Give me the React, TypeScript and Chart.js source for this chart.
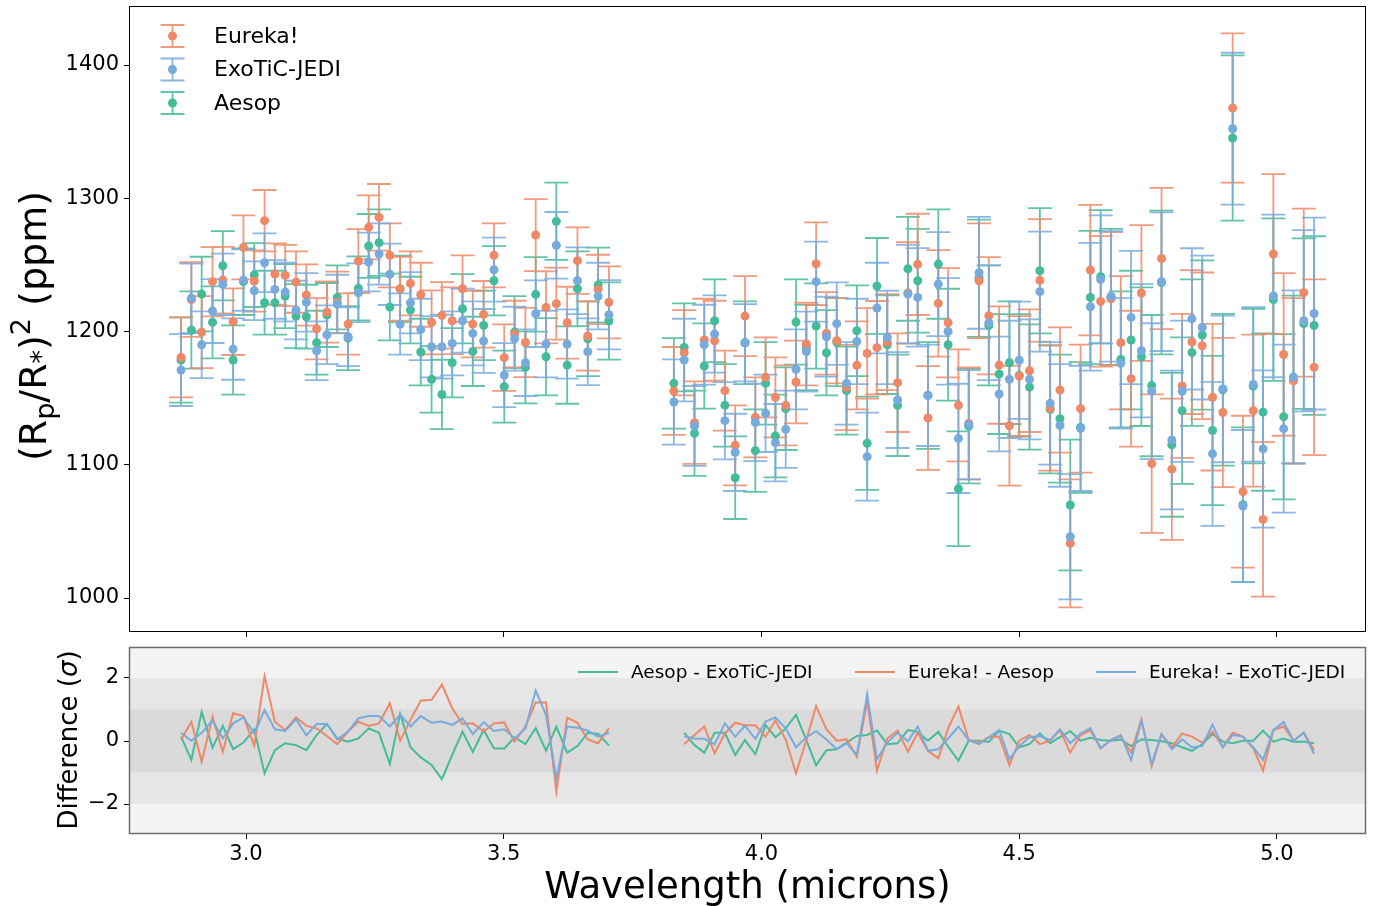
import React, { useEffect, useRef } from "react";
import { Chart, registerables } from "chart.js";

Chart.register(...registerables);

const FONT = "'DejaVu Sans', 'Liberation Sans', sans-serif";
const C_EUREKA = "#EE8866";
const C_JEDI = "#77AADD";
const C_AESOP = "#44BB99";

// ---------------- data ----------------
const wavelength = [
  2.874, 2.894, 2.914, 2.935, 2.955, 2.975, 2.995, 3.016, 3.036, 3.056,
  3.076, 3.097, 3.117, 3.137, 3.157, 3.177, 3.198, 3.218, 3.238, 3.258,
  3.279, 3.299, 3.319, 3.339, 3.36, 3.38, 3.4, 3.42, 3.44, 3.461,
  3.481, 3.501, 3.521, 3.542, 3.562, 3.582, 3.602, 3.623, 3.643, 3.663,
  3.683, 3.704,
  3.83, 3.85, 3.87, 3.889, 3.909, 3.929, 3.949, 3.968, 3.988, 4.008,
  4.027, 4.047, 4.067, 4.087, 4.106, 4.126, 4.146, 4.165, 4.185, 4.205,
  4.224, 4.244, 4.264, 4.284, 4.303, 4.323, 4.343, 4.362, 4.382, 4.402,
  4.422, 4.441, 4.461, 4.481, 4.5, 4.52, 4.54, 4.56, 4.579, 4.599,
  4.619, 4.638, 4.658, 4.678, 4.697, 4.717, 4.737, 4.757, 4.776, 4.796,
  4.816, 4.835, 4.855, 4.875, 4.895, 4.914, 4.934, 4.954, 4.973, 4.993,
  5.013, 5.032, 5.052, 5.072,
];

const eureka = [
  1180.6, 1224, 1199.6, 1237.4, 1238.6, 1207.4, 1263.2, 1237.9, 1283.2, 1243.1,
  1242.1, 1237.1, 1227.4, 1202.1, 1214.6, 1222, 1205.6, 1252.9, 1278.2, 1285.7,
  1257.2, 1232.1, 1236.1, 1227.6, 1206.9, 1212.1, 1208.1, 1232.1, 1205.6, 1212.9,
  1257.2, 1180.4, 1198.1, 1191.8, 1272.4, 1218.1, 1220.9, 1206.6, 1253.2, 1196.6,
  1231.6, 1221.9,
  1155.4, 1184.1, 1131.6, 1193.6, 1193.1, 1155.6, 1114.6, 1211.6, 1135.6, 1165.6,
  1150.6, 1144.6, 1162.1, 1190.6, 1250.9, 1198.6, 1193.1, 1158, 1174.6, 1183.6,
  1187.9, 1192, 1161.6, 1229, 1250.4, 1135.1, 1221.1, 1206.6, 1144.6, 1131,
  1238.1, 1211.9, 1174.8, 1129.3, 1166.6, 1170.6, 1238.4, 1142.6, 1156.1, 1041.0,
  1142.1, 1246.1, 1222.6, 1224.6, 1191.6, 1164.6, 1228.9, 1100.9, 1254.8, 1096.7,
  1159.2, 1192.1, 1189.3, 1150.7, 1139.2, 1367.7, 1079.8, 1140.6, 1059.0, 1258.2,
  1182.8, 1163.1, 1229.2, 1173.2,
];
const eurekaErr = [
  30, 28, 27, 26, 25, 25, 24, 23, 23, 23,
  23, 23, 23, 23, 23, 23, 23, 24, 24, 25,
  24, 24, 24, 24, 24, 25, 25, 25, 25, 25,
  24, 25, 25, 26, 27, 27, 27, 27, 25, 26,
  26, 27,
  33, 32, 31, 31, 30, 30, 30, 30, 30, 30,
  30, 30, 31, 31, 31, 31, 32, 32, 33, 34,
  35, 36, 37, 38, 38, 39, 40, 41, 42, 42,
  43, 44, 44, 45, 45, 46, 46, 47, 47, 48,
  48, 49, 49, 50, 50, 51, 51, 52, 53, 53,
  54, 54, 55, 55, 56, 56, 57, 57, 58, 60,
  61, 62, 63, 66,
];

const jedi = [
  1171.1, 1224.9, 1190.1, 1215.4, 1235.4, 1186.8, 1238.6, 1230.6, 1251.6, 1231.6,
  1229.6, 1216.1, 1221.9, 1185.6, 1197.6, 1220.6, 1196.1, 1229.1, 1252.2, 1258.2,
  1242.9, 1205.6, 1221.6, 1201.6, 1188.6, 1188.6, 1191.1, 1208.1, 1198.6, 1192.9,
  1246.4, 1167.3, 1194.6, 1176.6, 1213.4, 1190.6, 1264.7, 1190.6, 1238.1, 1184.8,
  1226.6, 1212.6,
  1147.1, 1178.6, 1129.1, 1190.1, 1198.1, 1133.1, 1109.3, 1191.6, 1131.8, 1138.6,
  1116.6, 1126.6, 1171.6, 1184.9, 1237.4, 1196.1, 1205.9, 1161.1, 1192.6, 1106.1,
  1217.6, 1195.6, 1148.6, 1228.1, 1225.6, 1152.1, 1235.6, 1200.1, 1119.8, 1130.0,
  1244.1, 1206.6, 1153.1, 1164.1, 1178.4, 1164.1, 1229.9, 1146.1, 1129.5, 1046.0,
  1127.3, 1218.6, 1239.1, 1226.4, 1176.1, 1210.6, 1185.6, 1155.2, 1237.4, 1118.6,
  1155.2, 1209.5, 1203.0, 1108.2, 1156.9, 1352.2, 1069.1, 1160.3, 1111.9, 1226.7,
  1127.1, 1165.9, 1208.1, 1213.5,
];
const jediErr = [
  27, 26, 25, 24, 23, 23, 23, 22, 22, 22,
  22, 22, 22, 22, 22, 22, 22, 22, 22, 23,
  23, 23, 23, 23, 23, 24, 24, 24, 24, 24,
  24, 24, 24, 25, 25, 25, 25, 26, 25, 25,
  25, 26,
  32, 31, 30, 30, 29, 29, 29, 29, 29, 29,
  29, 29, 30, 30, 30, 30, 31, 31, 32, 33,
  34, 35, 36, 37, 37, 38, 39, 40, 41, 41,
  42, 43, 43, 44, 44, 45, 45, 46, 46, 47,
  47, 48, 48, 49, 49, 50, 50, 51, 52, 52,
  53, 53, 54, 54, 55, 57, 57, 58, 59, 61,
  63, 65, 68, 72,
];

const aesop = [
  1178.6, 1201.1, 1228.1, 1206.9, 1249.4, 1178.6, 1237.4, 1242.4, 1221.6, 1221.6,
  1226.6, 1211.6, 1211.1, 1191.6, 1212.4, 1225.6, 1195, 1232.4, 1264.2, 1266.7,
  1218.4, 1232, 1216.1, 1184.6, 1164.1, 1152.8, 1176.6, 1217.1, 1185.1, 1204.6,
  1238.1, 1158.6, 1199.6, 1173.1, 1227.9, 1181.1, 1282.7, 1174.8, 1232.1, 1194.6,
  1234.9, 1207.9,
  1161.1, 1188.1, 1123.6, 1174.1, 1208.1, 1144.6, 1090.3, 1191.6, 1110.6, 1161.1,
  1121.6, 1142.1, 1207.1, 1188, 1204.1, 1184.1, 1192, 1155.6, 1200.6, 1116.1,
  1234.2, 1190.1, 1144.6, 1247.1, 1238.1, 1152, 1250.6, 1190.1, 1082.0, 1129,
  1240, 1204.6, 1168.1, 1176.6, 1167.1, 1158.3, 1245.6, 1141.6, 1134.6, 1069.8,
  1128, 1225.6, 1241.1, 1226, 1179.1, 1193.6, 1181.1, 1159.4, 1236.8, 1115.0,
  1140.6, 1184.2, 1197.4, 1125.7, 1156.3, 1345.2, 1070, 1159, 1139.5, 1223.9,
  1136.1, 1164, 1205.9, 1204.5,
];
const aesopErr = [
  32, 29, 28, 27, 26, 26, 25, 24, 24, 24,
  24, 24, 24, 24, 24, 24, 24, 24, 24, 25,
  25, 25, 25, 25, 25, 26, 26, 26, 26, 26,
  26, 27, 27, 27, 28, 29, 29, 29, 28, 28,
  28, 29,
  34, 33, 32, 32, 31, 31, 31, 31, 31, 31,
  31, 31, 32, 32, 32, 32, 33, 33, 34, 35,
  36, 37, 38, 39, 39, 40, 41, 42, 43, 43,
  44, 45, 45, 46, 46, 47, 47, 48, 48, 49,
  49, 50, 50, 51, 51, 52, 52, 53, 54, 54,
  55, 55, 56, 56, 57, 62, 58, 58, 59, 61,
  62, 63, 64, 67,
];

const diffAesopJedi = [
  0.14, -0.6, 0.93, -0.21, 0.48, -0.26, -0.05, 0.37, -1.03, -0.29,
  -0.07, -0.13, -0.29, 0.19, 0.54, 0.08, -0.02, 0.08, 0.4, 0.26,
  -0.73, 0.86, -0.2, -0.52, -0.76, -1.21, -0.44, 0.3, -0.35, 0.35,
  -0.24, -0.24, 0.12, -0.1, 0.41, -0.31, 0.46, -0.37, -0.16, 0.26,
  0.22, -0.14,
  null, 0.26, -0.13, -0.37, 0.26, 0.26, -0.44, 0.03, -0.42, 0.51,
  0.12, 0.4, 0.83, 0.03, -0.77, -0.29, -0.26, -0.05, 0.16, 0.19,
  0.33, -0.1, -0.07, 0.35, 0.29, 0.01, 0.29, -0.18, -0.62, 0.01,
  0.01, -0.03, 0.33, 0.22, -0.2, -0.1, 0.24, -0.07, 0.12, 0.31,
  0.01, 0.1, 0.03, 0.01, 0.05, -0.16, 0.05, 0.03, -0.01, -0.07,
  -0.2, -0.31, -0.1, 0.22, -0.02, -0.07, 0.01, 0.01, 0.33, -0.02,
  0.08, -0.02, -0.02, -0.07,
];
const diffEurekaAesop = [
  0.05, 0.61, -0.66, 0.77, -0.34, 0.88, 0.79, -0.15, 2.06, 0.61,
  0.35, 0.75, 0.48, 0.4, 0.16, -0.1, 0.3, 0.61, 0.48, 0.56,
  1.2, 0.01, 0.67, 1.28, 1.31, 1.79, 1.04, 0.54, 0.56, 0.3,
  0.56, 0.59, -0.02, 0.46, 1.22, 1.22, -1.61, 0.74, 0.58, 0.05,
  -0.07, 0.4,
  null, -0.1, 0.19, 0.46, -0.39, 0.24, 0.58, 0.5, 0.5, 0.14,
  0.65, 0.05, -1.03, 0.03, 1.11, 0.37, 0.01, 0.05, -0.5, 1.25,
  -0.94, 0.08, 0.33, -0.34, 0.26, -0.31, -0.55, 0.4, 1.09, 0.03,
  -0.05, 0.12, 0.14, -0.77, 0.01, 0.19, -0.1, 0.01, 0.35, -0.37,
  0.19, 0.33, -0.23, 0.03, 0.16, -0.37, 0.69, -0.8, 0.22, -0.2,
  0.24, 0.14, -0.05, 0.3, -0.2, 0.26, 0.14, -0.23, -0.94, 0.35,
  0.46, 0.01, 0.26, -0.29,
];
const diffEurekaJedi = [
  0.26, 0.01, 0.26, 0.65, 0.08, 0.56, 0.75, 0.24, 0.98, 0.37,
  0.32, 0.69, 0.18, 0.54, 0.54, 0.05, 0.3, 0.72, 0.79, 0.79,
  0.46, 0.83, 0.46, 0.79, 0.58, 0.62, 0.51, 0.72, 0.22, 0.6,
  0.32, 0.37, 0.08, 0.4, 1.6, 0.83, -1.19, 0.46, 0.42, 0.33,
  0.14, 0.26,
  null, 0.14, 0.08, 0.07, -0.1, 0.56, 0.14, 0.48, 0.07, 0.62,
  0.75, 0.4, -0.2, 0.12, 0.31, 0.05, -0.26, -0.07, -0.44, 1.48,
  -0.58, -0.05, 0.26, -0.01, 0.46, -0.31, -0.26, 0.08, 0.46, 0.03,
  -0.1, 0.12, 0.35, -0.58, -0.16, 0.12, 0.16, 0.03, 0.37, -0.07,
  0.24, 0.41, -0.23, 0.03, 0.19, -0.6, 0.64, -0.73, 0.22, -0.26,
  0.05, -0.2, -0.16, 0.52, -0.2, 0.19, 0.14, -0.2, -0.6, 0.35,
  0.6, 0.01, 0.26, -0.41,
];

const xTicks = [3.0, 3.5, 4.0, 4.5, 5.0];
const topYTicks = [1000, 1100, 1200, 1300, 1400];
const diffYTicks = [-2, 0, 2];
const sigmaBands = [2, 1];

const X_MIN = 2.773;
const X_MAX = 5.1727;
const TOP_Y_MIN = 974.5;
const TOP_Y_MAX = 1444.3;
const DIFF_Y_MIN = -2.952;
const DIFF_Y_MAX = 2.984;

// ---------------- helpers ----------------
const rgba = (hex: string, a: number) => {
  const n = parseInt(hex.slice(1), 16);
  return `rgba(${(n >> 16) & 255},${(n >> 8) & 255},${n & 255},${a})`;
};
const CAP = 12;

const fixAxisWidth = (w: number) => (scale: any) => {
  scale.width = w;
  scale.paddingTop = 0;
  scale.paddingBottom = 0;
  scale.paddingLeft = 0;
  scale.paddingRight = 0;
};
const fixAxisHeight = (h: number) => (scale: any) => {
  scale.height = h;
  scale.paddingTop = 0;
  scale.paddingBottom = 0;
  scale.paddingLeft = 0;
  scale.paddingRight = 0;
};
const setTicks = (vals: number[]) => (scale: any) => {
  scale.ticks = vals.map((v) => ({ value: v }));
};

const errorBarPlugin = {
  id: "errorBars",
  beforeDatasetsDraw(chart: any) {
    const { ctx, chartArea, scales } = chart;
    const xs = scales.x;
    const ys = scales.y;
    ctx.save();
    ctx.beginPath();
    ctx.rect(chartArea.left, chartArea.top, chartArea.right - chartArea.left, chartArea.bottom - chartArea.top);
    ctx.clip();
    const groups = [
      { v: aesop, e: aesopErr, c: C_AESOP },
      { v: eureka, e: eurekaErr, c: C_EUREKA },
      { v: jedi, e: jediErr, c: C_JEDI },
    ];
    ctx.lineWidth = 1.8;
    for (const g of groups) {
      ctx.strokeStyle = rgba(g.c, 0.85);
      ctx.beginPath();
      for (let i = 0; i < wavelength.length; i++) {
        const px = xs.getPixelForValue(wavelength[i]);
        const top = ys.getPixelForValue(g.v[i] + g.e[i]);
        const bot = ys.getPixelForValue(g.v[i] - g.e[i]);
        ctx.moveTo(px, top);
        ctx.lineTo(px, bot);
        ctx.moveTo(px - CAP, top);
        ctx.lineTo(px + CAP, top);
        ctx.moveTo(px - CAP, bot);
        ctx.lineTo(px + CAP, bot);
      }
      ctx.stroke();
    }
    ctx.restore();
  },
};

const topDecorPlugin = {
  id: "topDecor",
  afterDraw(chart: any) {
    const { ctx, chartArea } = chart;
    ctx.save();
    // frame
    ctx.strokeStyle = "#000";
    ctx.lineWidth = 1;
    ctx.strokeRect(chartArea.left + 0.5, chartArea.top + 0.5, chartArea.right - chartArea.left - 1, chartArea.bottom - chartArea.top - 1);

    // legend
    const items = [
      { l: "Eureka!", c: C_EUREKA, y: 36 },
      { l: "ExoTiC-JEDI", c: C_JEDI, y: 69.5 },
      { l: "Aesop", c: C_AESOP, y: 103 },
    ];
    const gx = 172.5;
    for (const it of items) {
      ctx.strokeStyle = rgba(it.c, 0.85);
      ctx.lineWidth = 1.8;
      ctx.beginPath();
      ctx.moveTo(gx, it.y - 11);
      ctx.lineTo(gx, it.y + 11);
      ctx.moveTo(gx - CAP, it.y - 11);
      ctx.lineTo(gx + CAP, it.y - 11);
      ctx.moveTo(gx - CAP, it.y + 11);
      ctx.lineTo(gx + CAP, it.y + 11);
      ctx.stroke();
      ctx.fillStyle = it.c;
      ctx.beginPath();
      ctx.arc(gx, it.y, 4.5, 0, Math.PI * 2);
      ctx.fill();
      ctx.fillStyle = "#000";
      ctx.font = `22px ${FONT}`;
      ctx.textAlign = "left";
      ctx.textBaseline = "middle";
      ctx.fillText(it.l, 214, it.y + 1);
    }

    // y title: (R_p/R_*)^2 (ppm)
    const big = 38;
    const small = 27;
    const parts = [
      { t: "(R", f: big, dy: 0 },
      { t: "p", f: small, dy: 8 },
      { t: "/R", f: big, dy: 0 },
      { t: "*", f: small, dy: 4 },
      { t: ")", f: big, dy: 0 },
      { t: "2", f: small, dy: -16 },
      { t: " (ppm)", f: big, dy: 0 },
    ];
    let total = 0;
    const widths: number[] = [];
    for (const p of parts) {
      ctx.font = `${p.f}px ${FONT}`;
      const w = ctx.measureText(p.t).width;
      widths.push(w);
      total += w;
    }
    ctx.translate(46, 326);
    ctx.rotate(-Math.PI / 2);
    ctx.fillStyle = "#000";
    ctx.textAlign = "left";
    ctx.textBaseline = "alphabetic";
    let cx = -total / 2;
    parts.forEach((p, i) => {
      ctx.font = `${p.f}px ${FONT}`;
      ctx.fillText(p.t, cx, p.dy);
      cx += widths[i];
    });
    ctx.restore();
  },
};

const bottomDecorPlugin = {
  id: "bottomDecor",
  beforeDatasetsDraw(chart: any) {
    const { ctx, chartArea, scales } = chart;
    const ys = scales.y;
    ctx.save();
    ctx.fillStyle = "#f4f4f4";
    ctx.fillRect(chartArea.left, chartArea.top, chartArea.right - chartArea.left, chartArea.bottom - chartArea.top);
    const fills = ["#e6e6e6", "#dadada"];
    sigmaBands.forEach((b, i) => {
      const t = ys.getPixelForValue(b);
      const btm = ys.getPixelForValue(-b);
      ctx.fillStyle = fills[i];
      ctx.fillRect(chartArea.left, t, chartArea.right - chartArea.left, btm - t);
    });
    ctx.restore();
  },
  afterDraw(chart: any) {
    const { ctx, chartArea } = chart;
    ctx.save();
    ctx.strokeStyle = "#6e6e6e";
    ctx.lineWidth = 1.5;
    ctx.strokeRect(chartArea.left + 0.5, chartArea.top + 0.5, chartArea.right - chartArea.left - 1, chartArea.bottom - chartArea.top - 1);

    // legend
    const ly = 672 - 640;
    const items = [
      { l: "Aesop - ExoTiC-JEDI", c: C_AESOP, x: 578 },
      { l: "Eureka! - Aesop", c: C_EUREKA, x: 855 },
      { l: "Eureka! - ExoTiC-JEDI", c: C_JEDI, x: 1096 },
    ];
    ctx.font = `18.5px ${FONT}`;
    ctx.textAlign = "left";
    ctx.textBaseline = "middle";
    for (const it of items) {
      ctx.strokeStyle = it.c;
      ctx.lineWidth = 2;
      ctx.beginPath();
      ctx.moveTo(it.x, ly);
      ctx.lineTo(it.x + 40, ly);
      ctx.stroke();
      ctx.fillStyle = "#000";
      ctx.fillText(it.l, it.x + 53, ly + 1);
    }

    // y title: Difference (σ)
    ctx.translate(77, 740 - 640);
    ctx.rotate(-Math.PI / 2);
    ctx.fillStyle = "#000";
    ctx.textBaseline = "alphabetic";
    const p1 = "Difference (";
    const p2 = "σ";
    const p3 = ")";
    ctx.font = `26px ${FONT}`;
    const w1 = ctx.measureText(p1).width;
    const w3 = ctx.measureText(p3).width;
    ctx.font = `italic 26px ${FONT}`;
    const w2 = ctx.measureText(p2).width;
    let cx = -(w1 + w2 + w3) / 2;
    ctx.font = `26px ${FONT}`;
    ctx.fillText(p1, cx, 0);
    cx += w1;
    ctx.font = `italic 26px ${FONT}`;
    ctx.fillText(p2, cx, 0);
    cx += w2;
    ctx.font = `26px ${FONT}`;
    ctx.fillText(p3, cx, 0);
    ctx.setTransform(1, 0, 0, 1, 0, 0);

    // x title
    ctx.font = `37px ${FONT}`;
    ctx.textAlign = "center";
    ctx.textBaseline = "alphabetic";
    ctx.fillText("Wavelength (microns)", (chartArea.left + chartArea.right) / 2, 898 - 640);
    ctx.restore();
  },
};

const tickGrid = {
  display: true,
  drawOnChartArea: false,
  drawTicks: true,
  tickLength: 5,
  tickColor: "#000",
  tickWidth: 1,
  color: "#000",
};

export default function App() {
  const topRef = useRef<HTMLCanvasElement | null>(null);
  const botRef = useRef<HTMLCanvasElement | null>(null);

  useEffect(() => {
    document.body.style.margin = "0";
    Chart.defaults.font.family = FONT;
    Chart.defaults.color = "#000";

    const pts = (vals: (number | null)[]) => wavelength.map((x, i) => ({ x, y: vals[i] }));

    const top = new Chart(topRef.current as HTMLCanvasElement, {
      type: "scatter",
      data: {
        datasets: [
          { label: "ExoTiC-JEDI", data: pts(jedi), backgroundColor: C_JEDI, pointRadius: 4.5, borderWidth: 0, order: 0 },
          { label: "Eureka!", data: pts(eureka), backgroundColor: C_EUREKA, pointRadius: 4.5, borderWidth: 0, order: 1 },
          { label: "Aesop", data: pts(aesop), backgroundColor: C_AESOP, pointRadius: 4.5, borderWidth: 0, order: 2 },
        ],
      } as any,
      options: {
        responsive: false,
        animation: false,
        events: [],
        layout: { padding: { top: 6, right: 10, left: 0, bottom: 0 } },
        plugins: { legend: { display: false }, tooltip: { enabled: false } },
        scales: {
          x: {
            type: "linear",
            min: X_MIN,
            max: X_MAX,
            afterBuildTicks: setTicks(xTicks),
            afterFit: fixAxisHeight(8),
            ticks: { display: false },
            grid: tickGrid,
            border: { display: false },
          },
          y: {
            type: "linear",
            min: TOP_Y_MIN,
            max: TOP_Y_MAX,
            afterBuildTicks: setTicks(topYTicks),
            afterFit: fixAxisWidth(129),
            ticks: { font: { size: 21, family: FONT }, color: "#000", padding: 5, callback: (v: any) => String(v) },
            grid: tickGrid,
            border: { display: false },
          },
        },
      } as any,
      plugins: [errorBarPlugin, topDecorPlugin],
    });

    const bottom = new Chart(botRef.current as HTMLCanvasElement, {
      type: "line",
      data: {
        datasets: [
          { label: "Eureka! - ExoTiC-JEDI", data: pts(diffEurekaJedi), borderColor: C_JEDI, borderWidth: 2, pointRadius: 0, tension: 0, spanGaps: false, order: 0 },
          { label: "Eureka! - Aesop", data: pts(diffEurekaAesop), borderColor: C_EUREKA, borderWidth: 2, pointRadius: 0, tension: 0, spanGaps: false, order: 1 },
          { label: "Aesop - ExoTiC-JEDI", data: pts(diffAesopJedi), borderColor: C_AESOP, borderWidth: 2, pointRadius: 0, tension: 0, spanGaps: false, order: 2 },
        ],
      } as any,
      options: {
        responsive: false,
        animation: false,
        events: [],
        layout: { padding: { top: 7, right: 10, left: 0, bottom: 0 } },
        plugins: { legend: { display: false }, tooltip: { enabled: false } },
        scales: {
          x: {
            type: "linear",
            min: X_MIN,
            max: X_MAX,
            afterBuildTicks: setTicks(xTicks),
            afterFit: fixAxisHeight(72),
            ticks: { font: { size: 21, family: FONT }, color: "#000", padding: 3, maxRotation: 0, autoSkip: false, callback: (v: any) => Number(v).toFixed(1) },
            grid: tickGrid,
            border: { display: false },
          },
          y: {
            type: "linear",
            min: DIFF_Y_MIN,
            max: DIFF_Y_MAX,
            afterBuildTicks: setTicks(diffYTicks),
            afterFit: fixAxisWidth(129),
            ticks: {
              font: { size: 21, family: FONT },
              color: "#000",
              padding: 5,
              callback: (v: any) => (Number(v) < 0 ? "\u2212" + Math.abs(Number(v)) : String(v)),
            },
            grid: tickGrid,
            border: { display: false },
          },
        },
      } as any,
      plugins: [bottomDecorPlugin],
    });

    return () => {
      top.destroy();
      bottom.destroy();
    };
  }, []);

  return (
    <div style={{ position: "relative", width: 1376, height: 906, background: "#fff" }}>
      <canvas ref={topRef} width={1376} height={640} style={{ position: "absolute", left: 0, top: 0 }} />
      <canvas ref={botRef} width={1376} height={266} style={{ position: "absolute", left: 0, top: 640 }} />
    </div>
  );
}
